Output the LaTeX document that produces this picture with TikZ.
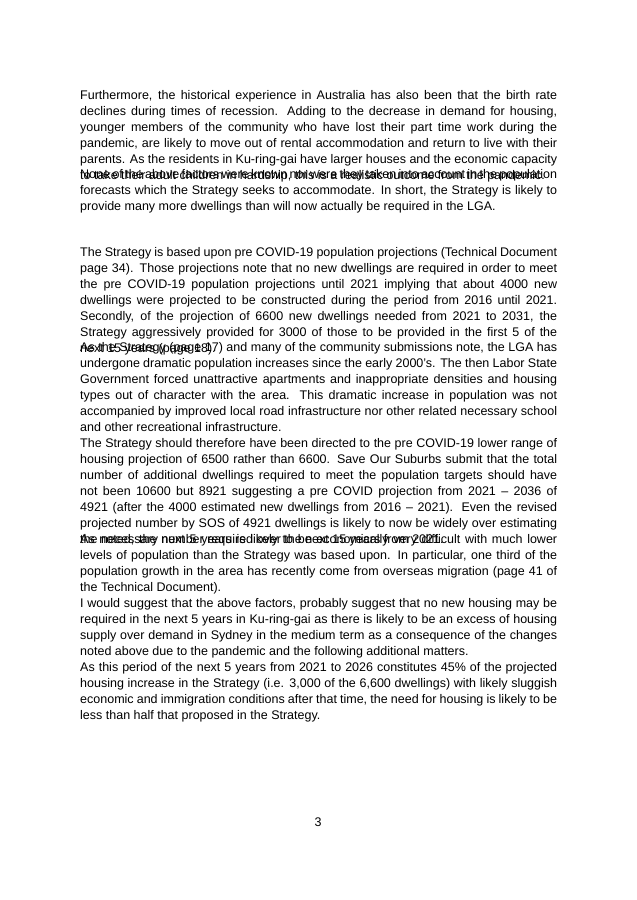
\documentclass[tikz,border=0pt]{standalone}
\usepackage{fontspec}
\setmainfont{Liberation Sans}
\tikzset{para/.style={anchor=north west,inner sep=0pt,text width=477pt,align=justify,
  font=\fontsize{12.5pt}{16pt}\selectfont,
  execute at begin node={\hyphenpenalty=10000\relax\exhyphenpenalty=10000\relax\emergencystretch=20pt\relax}}}
\begin{document}
\begin{tikzpicture}[x=1pt,y=1pt]
\useasboundingbox (0,0) rectangle (637,900);
\node[para] (p1) at (80,810) {Furthermore, the historical experience in Australia has also been that the birth rate declines during times of recession. Adding to the decrease in demand for housing, younger members of the community who have lost their part time work during the pandemic, are likely to move out of rental accommodation and return to live with their parents. As the residents in Ku-ring-gai have larger houses and the economic capacity to take their adult children in hardship, this is a realistic outcome from the pandemic.};
\node[para] (p2) at (80,731) {None of the above factors were known nor were they taken into account in the population forecasts which the Strategy seeks to accommodate. In short, the Strategy is likely to provide many more dwellings than will now actually be required in the LGA.};
\node[para] (p3) at (80,653) {The Strategy is based upon pre COVID-19 population projections (Technical Document page 34). Those projections note that no new dwellings are required in order to meet the pre COVID-19 population projections until 2021 implying that about 4000 new dwellings were projected to be constructed during the period from 2016 until 2021. Secondly, of the projection of 6600 new dwellings needed from 2021 to 2031, the Strategy aggressively provided for 3000 of those to be provided in the first 5 of the next 15 years (page 18).};
\node[para] (p4) at (80,558) {As the Strategy (page 17) and many of the community submissions note, the LGA has undergone dramatic population increases since the early 2000's. The then Labor State Government forced unattractive apartments and inappropriate densities and housing types out of character with the area. This dramatic increase in population was not accompanied by improved local road infrastructure nor other related necessary school and other recreational infrastructure.};
\node[para] (p5) at (80,462) {The Strategy should therefore have been directed to the pre COVID-19 lower range of housing projection of 6500 rather than 6600. Save Our Suburbs submit that the total number of additional dwellings required to meet the population targets should have not been 10600 but 8921 suggesting a pre COVID projection from 2021 -- 2036 of 4921 (after the 4000 estimated new dwellings from 2016 -- 2021). Even the revised projected number by SOS of 4921 dwellings is likely to now be widely over estimating the necessary number required over the next 15 years from 2021.};
\node[para] (p6) at (80,366) {As noted, the next 5 years is likely to be economically very difficult with much lower levels of population than the Strategy was based upon. In particular, one third of the population growth in the area has recently come from overseas migration (page 41 of the Technical Document).};
\node[para] (p7) at (80,302) {I would suggest that the above factors, probably suggest that no new housing may be required in the next 5 years in Ku-ring-gai as there is likely to be an excess of housing supply over demand in Sydney in the medium term as a consequence of the changes noted above due to the pandemic and the following additional matters.};
\node[para] (p8) at (80,238) {As this period of the next 5 years from 2021 to 2026 constitutes 45\% of the projected housing increase in the Strategy (i.e. 3,000 of the 6,600 dwellings) with likely sluggish economic and immigration conditions after that time, the need for housing is likely to be less than half that proposed in the Strategy.};
\node[font=\fontsize{12.5pt}{14pt}\selectfont] (pg) at (318,78) {3};
\end{tikzpicture}
\end{document}
